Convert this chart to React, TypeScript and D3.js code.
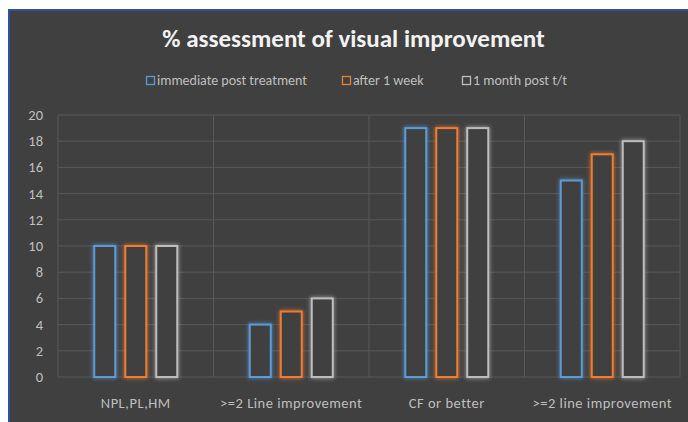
import React from "react";
import * as d3 from "d3";

const categories = ["NPL,PL,HM", ">=2 Line improvement", "CF or better", ">=2 line improvement"];
const seriesNames = ["immediate post treatment", "after 1 week", "1 month post t/t"];
const immediate = [10, 4, 19, 15];
const week1 = [10, 5, 19, 17];
const month1 = [10, 6, 19, 18];
const yTicks = [0, 2, 4, 6, 8, 10, 12, 14, 16, 18, 20];
const colors = ["#5B9BD5", "#ED7D31", "#BDBDBD"];

const W = 688;
const H = 422;
const FONT = "Calibri, Carlito, Lato, sans-serif";

export default function App() {
  const plotLeft = 58;
  const plotRight = 680;
  const plotTop = 115;
  const plotBottom = 377;
  const series = [immediate, week1, month1];

  const x0 = d3.scaleBand<string>().domain(categories).range([plotLeft, plotRight]).padding(0);
  const x1 = d3
    .scaleBand<string>()
    .domain(seriesNames)
    .range([-42.5, 42.5])
    .paddingInner(8 / 31)
    .paddingOuter(0);
  const y = d3.scaleLinear().domain([0, 20]).range([plotBottom, plotTop]);

  const vLines = [...categories.map((c) => x0(c) as number), plotRight];

  const legendItems = [
    { x: 146, label: seriesNames[0] },
    { x: 342, label: seriesNames[1] },
    { x: 462, label: seriesNames[2] },
  ];

  return (
    <svg
      width={W}
      height={H}
      style={{ position: "absolute", left: 0, top: 0, display: "block" }}
      xmlns="http://www.w3.org/2000/svg"
    >
      <defs>
        <filter id="glow" x="-50%" y="-50%" width="200%" height="200%">
          <feGaussianBlur in="SourceGraphic" stdDeviation="2.2" result="blur" />
          <feMerge>
            <feMergeNode in="blur" />
            <feMergeNode in="SourceGraphic" />
          </feMerge>
        </filter>
      </defs>
      <rect x={0} y={0} width={W} height={H} fill="#ffffff" />
      <rect x={8} y={9} width={W - 8} height={H - 9} fill="#2F51A3" />
      <rect x={10} y={11} width={W - 10} height={H - 11} fill="#404040" />

      <text
        x={353.5}
        y={47}
        textAnchor="middle"
        fill="#F2F2F2"
        fontFamily={FONT}
        fontWeight="bold"
        fontSize={25}
      >
        % assessment of visual improvement
      </text>

      {legendItems.map((l, i) => (
        <g key={l.label}>
          <rect x={l.x + 0.5} y={76.5} width={8} height={8} fill="none" stroke={colors[i]} strokeWidth={1.3} />
          <text x={l.x + 11} y={85} fill="#BFBFBF" fontFamily={FONT} fontSize={14}>
            {l.label}
          </text>
        </g>
      ))}

      {yTicks.map((t) => (
        <line
          key={"h" + t}
          x1={plotLeft}
          x2={plotRight}
          y1={y(t)}
          y2={y(t)}
          stroke="#595959"
          strokeWidth={1}
        />
      ))}
      {vLines.map((vx, i) => (
        <line key={"v" + i} x1={vx} x2={vx} y1={plotTop} y2={plotBottom} stroke="#595959" strokeWidth={1} />
      ))}

      {yTicks.map((t) => (
        <text
          key={"yt" + t}
          x={43}
          y={y(t) + 5}
          textAnchor="end"
          fill="#BFBFBF"
          fontFamily={FONT}
          fontSize={14.5}
        >
          {t}
        </text>
      ))}

      {categories.map((c, ci) => {
        const cx = (x0(c) as number) + x0.bandwidth() / 2;
        return (
          <g key={c}>
            {series.map((s, si) => {
              const bx = cx + (x1(seriesNames[si]) as number);
              const top = y(s[ci]);
              return (
                <rect
                  key={si}
                  x={bx + 1}
                  y={top}
                  width={x1.bandwidth() - 2}
                  height={plotBottom - top}
                  fill="#404040"
                  stroke={colors[si]}
                  strokeWidth={2}
                  filter="url(#glow)"
                />
              );
            })}
            <text
              x={cx}
              y={408}
              textAnchor="middle"
              fill="#BFBFBF"
              fontFamily={FONT}
              fontSize={14.5}
              letterSpacing={0.5}
            >
              {c}
            </text>
          </g>
        );
      })}
    </svg>
  );
}
